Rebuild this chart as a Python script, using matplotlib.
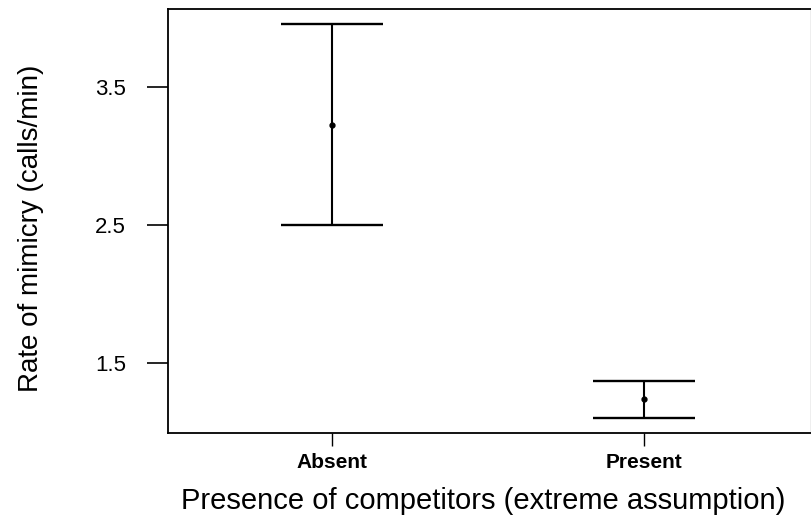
import matplotlib
matplotlib.use("Agg")
import matplotlib.pyplot as plt

plt.rcParams['font.family'] = ['Liberation Sans', 'DejaVu Sans']

categories = ["Absent", "Present"]
means = [3.222, 1.237]
upper = [3.954, 1.370]
lower = [2.495, 1.100]
yticks = [1.5, 2.5, 3.5]
ytick_labels = ["1.5", "2.5", "3.5"]

fig = plt.figure(figsize=(8.12, 5.23), dpi=100)
ax = fig.add_axes([0.2065, 0.1715, 0.7923, 0.8113])

xpos = [1, 2]
yerr = [[m - l for m, l in zip(means, lower)], [u - m for m, u in zip(means, upper)]]
ax.errorbar(xpos, means, yerr=yerr, fmt='o', color='black', ecolor='black',
            markersize=3.5, elinewidth=1.5, capsize=37, capthick=1.7)

ax.set_xlim(0.472, 2.534)
ax.set_ylim(0.988, 4.063)
ax.set_xticks(xpos)
ax.set_xticklabels(categories, fontsize=15, fontweight='bold')
ax.set_yticks(yticks)
ax.set_yticklabels(ytick_labels, fontsize=16)

ax.tick_params(axis='y', length=15, width=1.2, pad=15)
ax.tick_params(axis='x', length=9, width=1.0, pad=5)

for s in ['left', 'bottom', 'top']:
    ax.spines[s].set_linewidth(1.3)
ax.spines['right'].set_linewidth(1.0)
ax.spines['right'].set_color('#aaaaaa')

ax.set_ylabel("Rate of mimicry (calls/min)", fontsize=20)
ax.set_xlabel("Presence of competitors (extreme assumption)", fontsize=21)
ax.yaxis.set_label_coords(-0.192, 0.483)
ax.xaxis.set_label_coords(0.49, -0.126)

fig.savefig("out.png", dpi=100)
